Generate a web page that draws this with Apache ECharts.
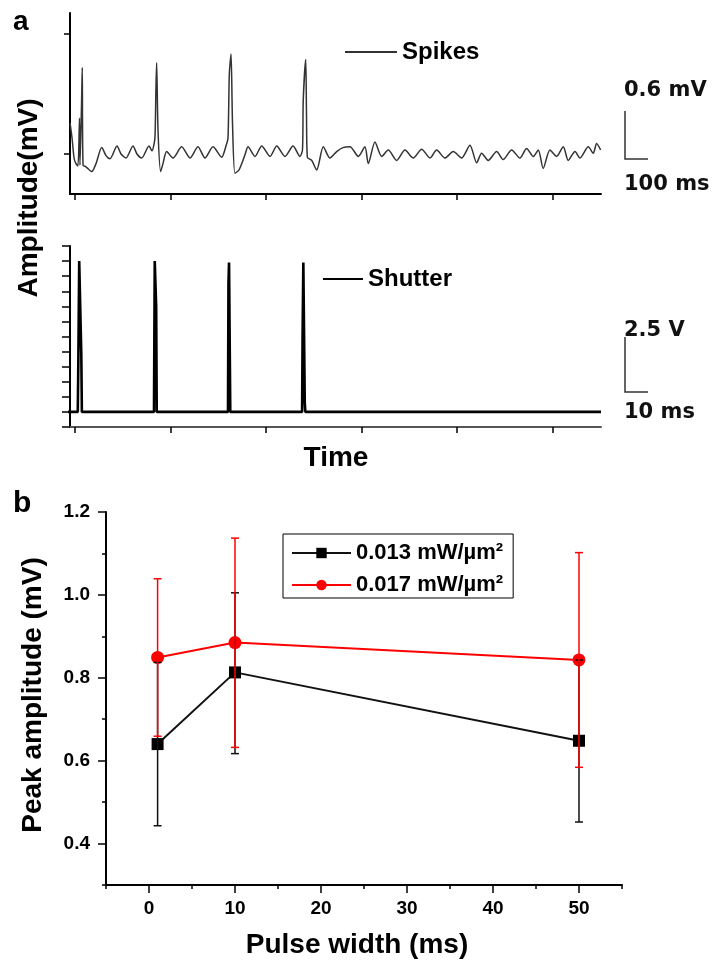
<!DOCTYPE html>
<html>
<head>
<meta charset="utf-8">
<script src="https://cdn.jsdelivr.net/npm/echarts@6/dist/echarts.min.js"></script>
<style>
html, body { margin: 0; padding: 0; background: #fff; }
#main { width: 715px; height: 963px; }
</style>
</head>
<body>
<div id="main"></div>
<script>
// panel a, top trace: time (arbitrary units, 100 per tick) and amplitude (mV)
const spikeTime = [-5.2, -3.1, -1.0, 1.0, 3.1, 4.7, 5.2, 6.8, 7.6, 8.4, 11.5, 17.5, 22, 28, 32.5, 36.6, 44, 48.2, 53.4, 60.7,
  64.9, 69.8, 77.5, 80.6, 82.7, 83.8, 84.8, 85.5, 86.9, 89.7, 92.1, 96, 102.6, 111.7, 120.4, 128.8, 136.1, 144.5, 153.6, 158.1,
  160.2, 161.6, 163.4, 164.9, 167.5, 171.7, 178, 181.2, 188.5, 195.5, 204.2, 211.2, 219.9, 228.3, 235.6, 238.2, 239, 241.6, 242.4, 243.3,
  247.9, 253.1, 260, 267, 274, 280.6, 288, 296.6, 303.6, 307.1, 314.1, 321.1, 328.1, 336.8, 345.5, 354.2, 363, 371.7, 378.7, 387.4,
  396.1, 404.9, 413.6, 420.6, 425.8, 432.7, 441.5, 448.4, 457.2, 465.9, 472.9, 479.9, 485.1, 490.3, 497.3, 504.3, 511.3, 516.5, 523.6, 528.8,
  537.5, 542.7, 546.2, 550.4];
const spikeAmp = [0.39, 0.2, -0.05, -0.12, -0.15, 0.45, -0.14, 0.6, 1.08, -0.14, -0.16, -0.22, -0.12, 0.08, -0.02, -0.06, 0.1, 0.0, -0.05, 0.1,
  0.0, -0.05, 0.1, 0.04, 0.12, 0.22, 0.85, 1.14, 0.3, -0.22, -0.12, 0.03, -0.05, 0.09, -0.05, 0.09, -0.05, 0.09, -0.04, 0.1,
  0.2, 1.0, 1.25, 0.4, -0.24, -0.2, -0.01, 0.09, -0.03, 0.1, -0.03, 0.1, -0.03, 0.1, -0.03, 0.05, 0.67, 1.18, 0.5, -0.04,
  -0.08, -0.2, 0.09, -0.05, 0.03, 0.08, 0.09, -0.03, 0.09, -0.12, 0.15, -0.03, 0.05, -0.08, 0.05, -0.05, 0.06, -0.05, 0.05, -0.05,
  0.03, -0.05, 0.11, -0.11, 0.01, -0.08, 0.03, -0.07, 0.05, -0.05, 0.07, -0.03, 0.05, -0.18, 0.05, -0.03, 0.09, -0.08, 0.03, -0.05,
  0.09, 0.01, 0.13, 0.05];

// panel a, bottom trace: shutter voltage (V)
const shutterTime = [-13, 2.9, 3.5, 4.4, 5.5, 6.6, 7.2, 82.7, 83.5, 84.3, 85.0, 85.6, 160.2, 160.7, 161.3, 162.1, 162.6,
  237.8, 238.3, 239.1, 240.0, 240.6, 241.2, 550.8];
const shutterVolt = [0, 0, 1.7, 5.0, 5.0, 1.9, 0, 0, 5.0, 5.0, 3.5, 0, 0, 4.26, 4.95, 4.95, 0,
  0, 2.5, 4.95, 4.95, 0.3, 0, 0];

const timeTicks = [0, 100, 200, 300, 400, 500];

// panel b
const pulseWidth = [1, 10, 50];
const amp013 = [0.640, 0.813, 0.648];
const low013 = [0.443, 0.617, 0.452];
const high013 = [0.837, 1.005, 0.843];
const amp017 = [0.849, 0.885, 0.843];
const low017 = [0.659, 0.632, 0.584];
const high017 = [1.039, 1.137, 1.102];
const pulseTicks = [0, 10, 20, 30, 40, 50];
const peakTicks = [0.4, 0.6, 0.8, 1.0, 1.2];

const FONT = "'Liberation Sans', Arial, sans-serif";
const SCALE_FONT = "'DejaVu Sans', sans-serif";

const chart = echarts.init(document.getElementById('main'));

const errorBars = (color) => (params, api) => {
  const x = api.value(0);
  const top = api.coord([x, api.value(2)]);
  const bot = api.coord([x, api.value(1)]);
  const w = 4;
  const st = { stroke: color, lineWidth: 1.5 };
  return {
    type: 'group',
    children: [
      { type: 'line', shape: { x1: top[0], y1: top[1], x2: bot[0], y2: bot[1] }, style: st },
      { type: 'line', shape: { x1: top[0] - w, y1: top[1], x2: top[0] + w, y2: top[1] }, style: st },
      { type: 'line', shape: { x1: bot[0] - w, y1: bot[1], x2: bot[0] + w, y2: bot[1] }, style: st }
    ]
  };
};

const scaleText = (text, x, y) => ({
  type: 'text', x: x, y: y,
  style: { text: text, font: 'bold 21px ' + SCALE_FONT, fill: '#111', align: 'left', verticalAlign: 'middle' }
});

const option = {
  animation: false,
  backgroundColor: '#fff',
  grid: [
    { left: 70, right: 114, top: 13, height: 181, outerBoundsMode: 'none' },
    { left: 70, right: 114, top: 246, height: 181, outerBoundsMode: 'none' },
    { left: 106, right: 93, top: 512, bottom: 78, outerBoundsMode: 'none' }
  ],
  xAxis: [
    {
      gridIndex: 0, type: 'value', min: -5.24, max: 550.8,
      axisLine: { onZero: false, lineStyle: { color: '#000', width: 2 } },
      axisTick: { customValues: timeTicks, length: 6, lineStyle: { color: '#000', width: 1.5 } },
      axisLabel: { show: false }, splitLine: { show: false }
    },
    {
      gridIndex: 1, type: 'value', min: -5.24, max: 550.8,
      axisLine: { onZero: false, lineStyle: { color: '#555', width: 2 } },
      axisTick: { customValues: timeTicks, length: 6, lineStyle: { color: '#000', width: 1.5 } },
      axisLabel: { show: false }, splitLine: { show: false }
    },
    {
      gridIndex: 2, type: 'value', min: -5, max: 55, interval: 5,
      axisLine: { onZero: false, lineStyle: { color: '#000', width: 2 } },
      axisTick: { length: 4, lineStyle: { color: '#000', width: 1.5 } },
      axisLabel: { show: false }, splitLine: { show: false }
    },
    {
      gridIndex: 2, type: 'value', min: -5, max: 55, position: 'bottom',
      axisLine: { show: false, onZero: false },
      axisTick: { customValues: pulseTicks, length: 8, lineStyle: { color: '#000', width: 1.5 } },
      axisLabel: { customValues: pulseTicks, margin: 14, color: '#000', fontSize: 19, fontWeight: 'bold', fontFamily: FONT },
      splitLine: { show: false }
    }
  ],
  yAxis: [
    {
      gridIndex: 0, type: 'value', min: -0.5, max: 1.7625,
      axisLine: { onZero: false, lineStyle: { color: '#000', width: 2 } },
      axisTick: { customValues: [0, 1.5], length: 6, lineStyle: { color: '#000', width: 1.5 } },
      axisLabel: { show: false }, splitLine: { show: false }
    },
    {
      gridIndex: 1, type: 'value', min: -0.5, max: 5.5, interval: 0.5,
      axisLine: { onZero: false, lineStyle: { color: '#000', width: 2 } },
      axisTick: { length: 8, lineStyle: { color: '#000', width: 1.5 } },
      axisLabel: { show: false }, splitLine: { show: false }
    },
    {
      gridIndex: 2, type: 'value', min: 0.3, max: 1.2, interval: 0.1,
      axisLine: { onZero: false, lineStyle: { color: '#000', width: 2 } },
      axisTick: { length: 4, lineStyle: { color: '#000', width: 1.5 } },
      axisLabel: { show: false }, splitLine: { show: false }
    },
    {
      gridIndex: 2, type: 'value', min: 0.3, max: 1.2, position: 'left',
      axisLine: { show: false, onZero: false },
      axisTick: { customValues: peakTicks, length: 8, lineStyle: { color: '#000', width: 1.5 } },
      axisLabel: {
        customValues: peakTicks, margin: 16, color: '#000', fontSize: 19, fontWeight: 'bold', fontFamily: FONT,
        formatter: (v) => v.toFixed(1)
      },
      splitLine: { show: false }
    }
  ],
  legend: [
    {
      data: ['Spikes'], left: 345, top: 40, padding: 0, icon: 'rect', itemWidth: 52, itemHeight: 2,
      selectedMode: false,
      textStyle: { fontSize: 24, lineHeight: 24, fontWeight: 'bold', fontFamily: FONT, color: '#000' }
    },
    {
      data: ['Shutter'], left: 323, top: 267, padding: 0, icon: 'rect', itemWidth: 40, itemHeight: 2,
      selectedMode: false,
      textStyle: { fontSize: 24, lineHeight: 24, fontWeight: 'bold', fontFamily: FONT, color: '#000' }
    },
    {
      data: ['0.013 mW/µm²', '0.017 mW/µm²'], orient: 'vertical', left: 283, top: 534,
      padding: [8, 10, 2, 8], itemGap: 10, itemWidth: 59, itemHeight: 13,
      borderColor: '#000', borderWidth: 1, selectedMode: false,
      textStyle: { fontSize: 22, lineHeight: 22, fontWeight: 'bold', fontFamily: FONT, color: '#000' }
    }
  ],
  series: [
    {
      name: 'Spikes', type: 'line', xAxisIndex: 0, yAxisIndex: 0,
      data: spikeTime.map((t, i) => [t, spikeAmp[i]]),
      showSymbol: false, symbol: 'none', color: '#333', smooth: 0.25,
      lineStyle: { color: '#333', width: 1.5 }
    },
    {
      name: 'Shutter', type: 'line', xAxisIndex: 1, yAxisIndex: 1,
      data: shutterTime.map((t, i) => [t, shutterVolt[i]]),
      showSymbol: false, symbol: 'none', color: '#000', clip: false,
      lineStyle: { color: '#000', width: 2.6 }
    },
    {
      name: '0.013 mW/µm²', type: 'line', xAxisIndex: 2, yAxisIndex: 2,
      data: pulseWidth.map((x, i) => [x, amp013[i]]),
      symbol: 'rect', symbolSize: 12, color: '#000',
      itemStyle: { color: '#000' }, lineStyle: { color: '#111', width: 2 }, z: 3
    },
    {
      name: '0.017 mW/µm²', type: 'line', xAxisIndex: 2, yAxisIndex: 2,
      data: pulseWidth.map((x, i) => [x, amp017[i]]),
      symbol: 'circle', symbolSize: 13, color: '#ff0000',
      itemStyle: { color: '#ff0000' }, lineStyle: { color: '#ff0000', width: 2 }, z: 3
    },
    {
      name: 'err013', type: 'custom', xAxisIndex: 2, yAxisIndex: 2, z: 4,
      data: pulseWidth.map((x, i) => [x, low013[i], high013[i]]),
      renderItem: errorBars('#111')
    },
    {
      name: 'err017', type: 'custom', xAxisIndex: 2, yAxisIndex: 2, z: 5,
      data: pulseWidth.map((x, i) => [x, low017[i], high017[i]]),
      renderItem: errorBars('#ff0000')
    }
  ],
  graphic: [
    { type: 'text', x: 13, y: 22, style: { text: 'a', font: 'bold 28px ' + FONT, fill: '#000', align: 'left', verticalAlign: 'middle' } },
    { type: 'text', x: 13, y: 504, style: { text: 'b', font: 'bold 30px ' + FONT, fill: '#000', align: 'left', verticalAlign: 'middle' } },
    { type: 'text', x: 29, y: 198, rotation: Math.PI / 2,
      style: { text: 'Amplitude(mV)', font: 'bold 28px ' + FONT, fill: '#000', align: 'center', verticalAlign: 'middle' } },
    { type: 'text', x: 336, y: 458,
      style: { text: 'Time', font: 'bold 28px ' + FONT, fill: '#000', align: 'center', verticalAlign: 'middle' } },
    { type: 'text', x: 33, y: 695, rotation: Math.PI / 2,
      style: { text: 'Peak amplitude (mV)', font: 'bold 28px ' + FONT, fill: '#000', align: 'center', verticalAlign: 'middle' } },
    { type: 'text', x: 357, y: 945,
      style: { text: 'Pulse width (ms)', font: 'bold 28px ' + FONT, fill: '#000', align: 'center', verticalAlign: 'middle' } },
    scaleText('0.6 mV', 624, 91),
    scaleText('100 ms', 624, 185),
    scaleText('2.5 V', 624, 331),
    scaleText('10 ms', 624, 413),
    { type: 'polyline', shape: { points: [[625, 111], [625, 159], [648, 159]] }, style: { stroke: '#333', lineWidth: 1.5, fill: null } },
    { type: 'polyline', shape: { points: [[625, 337], [625, 392], [648, 392]] }, style: { stroke: '#333', lineWidth: 1.5, fill: null } }
  ]
};

chart.setOption(option);
</script>
</body>
</html>
